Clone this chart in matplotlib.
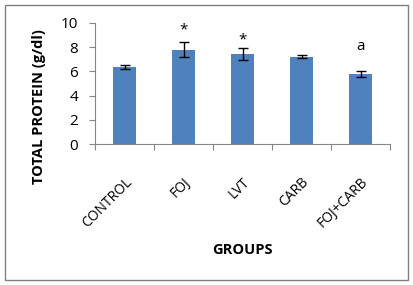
import matplotlib
matplotlib.use("Agg")
import matplotlib.pyplot as plt
from matplotlib.patches import Rectangle
import numpy as np

categories = ["CONTROL", "FOJ", "LVT", "CARB", "FOJ+CARB"]
values = [6.35, 7.8, 7.45, 7.2, 5.8]
errors = [0.17, 0.65, 0.48, 0.13, 0.27]
marks = ["", "*", "*", "", "a"]
mark_y = [None, 9.15, 8.33, None, 7.8]

plt.rcParams['font.family'] = ['Open Sans', 'DejaVu Sans']

fig = plt.figure(figsize=(4.13, 2.85), dpi=100)
fig.patches.append(Rectangle((5/413, 5/285), 403/413, 275/285, transform=fig.transFigure,
                             fill=False, edgecolor='#808080', linewidth=1.0))
ax = fig.add_axes([95/413, 1 - 144/285, (390 - 95)/413, (144 - 23)/285])
x = np.arange(len(categories))
ax.bar(x, values, width=0.4, color='#4F81BD', zorder=2)
ax.errorbar(x, values, yerr=errors, fmt='none', ecolor='black', elinewidth=1, capsize=3.5, capthick=1, zorder=3)
for xi, m, my in zip(x, marks, mark_y):
    if m:
        ax.text(xi, my, m, ha='center', va='baseline', fontsize=11, color='black')

ax.set_xlim(-0.5, len(categories) - 0.5)
ax.set_ylim(0, 10)
ax.set_yticks([0, 2, 4, 6, 8, 10])
ax.set_xticks(x)
ax.set_xticklabels(categories, rotation=45, ha='right', rotation_mode='anchor', fontsize=10)
ax.tick_params(axis='x', length=0, pad=22)
ax.set_xticks(np.arange(-0.5, len(categories)), minor=True)
ax.tick_params(axis='x', which='minor', length=4, color='#868686', width=0.8)
ax.tick_params(axis='y', labelsize=11, length=4, pad=8, color='#868686', width=0.8)
for s in ['top', 'right']:
    ax.spines[s].set_visible(False)
for s in ['left', 'bottom']:
    ax.spines[s].set_color('#868686')
    ax.spines[s].set_linewidth(0.8)

fig.text(39/413, 1 - 107/285, "TOTAL PROTEIN (g/dl)", rotation=90, ha='center', va='center',
         fontsize=10.5, fontweight='bold')
fig.text(242/413, 1 - 250/285, "GROUPS", ha='center', va='center', fontsize=10.5, fontweight='bold')

fig.savefig("out.png", dpi=100)
